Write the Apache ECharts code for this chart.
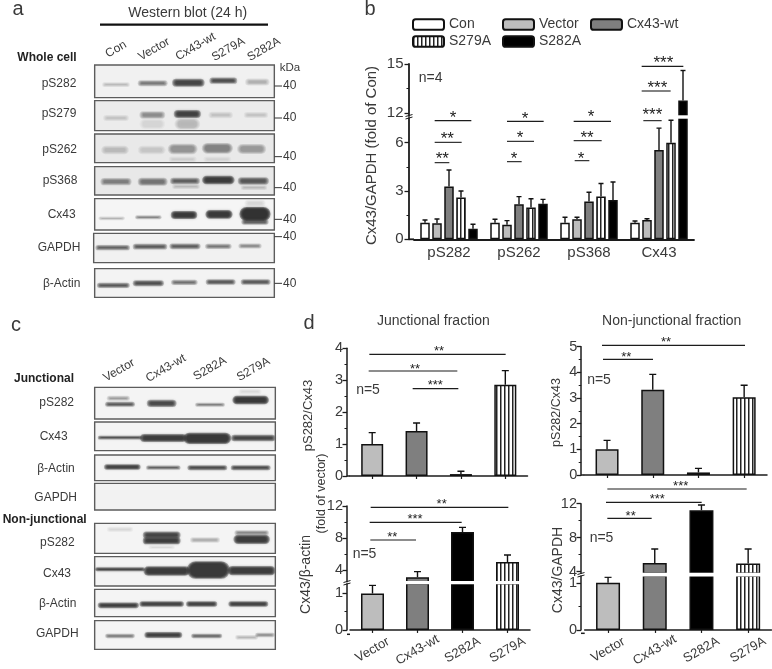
<!DOCTYPE html>
<html><head><meta charset="utf-8">
<style>html,body{margin:0;padding:0;background:#fff}#c{width:772px;height:669px}</style>
<script src="https://cdn.jsdelivr.net/npm/echarts@6/dist/echarts.min.js"></script>
</head><body><div id="c"></div>
<script>
// ---------- chart values (panel b) ----------
const targetsB = ['pS282','pS262','pS368','Cx43'];
const conB      = [1.03,1.03,1.03,1.03];
const conErrB   = [1.2,1.24,1.37,1.14];
const vectorB   = [1.0,0.91,1.24,1.2];
const vectorErrB= [1.26,1.16,1.37,1.28];
const wtB       = [3.27,2.17,2.34,5.55];
const wtErrB    = [4.3,2.65,2.92,6.9];
const s279B     = [2.6,1.97,2.65,6.0];
const s279ErrB  = [3.0,2.52,3.46,7.39];
const s282B     = [0.66,2.2,2.44,12.75];
const s282ErrB  = [0.93,2.48,3.56,14.6];
// ---------- chart values (panel d) ----------
const groupsDL = ['Vector','Cx43-wt','S282A','S279A'];
const junctionalPs     = [1.0,1.41,0.06,2.86];
const junctionalPsErr  = [1.36,1.66,0.15,3.3];
const junctionalCx     = [1.0,3.1,8.75,5.0];
const junctionalCxErr  = [1.22,3.8,9.33,5.87];
const nonJunctionalPs    = [1.0,3.32,0.1,3.03];
const nonJunctionalPsErr = [1.35,3.92,0.26,3.5];
const nonJunctionalCx    = [1.0,5.02,11.22,4.94];
const nonJunctionalCxErr = [1.12,6.67,11.85,6.67];

const FONT = '"Liberation Sans", Arial, sans-serif';
const INK = '#3a3a3a';
const LINE = '#1c1c1c';

function stripes(period, lineW){
  const cv = document.createElement('canvas');
  cv.width = period; cv.height = 4;
  const g = cv.getContext('2d');
  g.fillStyle = '#fff'; g.fillRect(0,0,period,4);
  g.fillStyle = '#222'; g.fillRect(0,0,lineW,4);
  return {image: cv, repeat: 'repeat'};
}
const STRIPE = stripes(4,1.5);
const COL = {Con:'#ffffff',Vector:'#bdbdbd','Cx43-wt':'#7f7f7f',S282A:'#000000',S279A:STRIPE};

const grid=[], xAxis=[], yAxis=[], series=[];

function addScale(o){
  const gi = grid.length;
  grid.push({left:o.left, width:o.width, top:o.top, height:o.bottom-o.top});
  xAxis.push({type:'category', gridIndex:gi, data:o.cats, show:o.showX,
    axisLine:{show:o.showX, onZero:false, lineStyle:{color:LINE,width:o.axisW}},
    axisTick:{show:!!o.xTick, alignWithLabel:true, length:3, lineStyle:{color:LINE,width:1.2}},
    axisLabel:{show:!!o.xLabels, interval:0, rotate:o.xRotate||0, margin:o.xMargin||6,
      align:'center', verticalAlign:o.xRotate?'middle':'top',
      color:INK, fontFamily:FONT, fontSize:o.xFont||14}});
  const yi = yAxis.length;
  yAxis.push({type:'value', gridIndex:gi, min:o.min, max:o.max, position:'left', offset:o.offset,
    splitLine:{show:false},
    axisLine:{show:true, onZero:false, lineStyle:{color:LINE,width:o.axisW}},
    axisTick:{show:true, length:4.5, customValues:o.major, lineStyle:{color:LINE,width:1.3}},
    axisLabel:{show:true, customValues:o.major, margin:o.yMargin||5.5, color:INK, fontFamily:FONT, fontSize:o.yFont||15}});
  yAxis.push({type:'value', gridIndex:gi, min:o.min, max:o.max, position:'left', offset:o.offset,
    splitLine:{show:false}, axisLine:{show:false},
    axisTick:{show:true, length:2.5, customValues:o.minor, lineStyle:{color:LINE,width:1}},
    axisLabel:{show:false}});
  return {xi:gi, yi};
}

function addBars(scale,o,name,vals,errs,colorFor,slot,nSlots,spacing){
  const inRange = v => v>o.min;
  series.push({type:'bar', name, xAxisIndex:scale.xi, yAxisIndex:scale.yi,
    barWidth:o.barW, barGap:o.barGap, clip:true, z:3, silent:true, animation:false,
    itemStyle:{color:colorFor(0), borderColor:'#111', borderWidth:o.barB},
    data: vals.map((v,i)=>({value: inRange(v)?v:null, itemStyle:{color:colorFor(i)}}))});
  const errData = vals.map((v,i)=>[i,v,errs[i]]).filter(d=>d[1]>o.min && d[1]<=o.max);
  series.push({type:'custom', xAxisIndex:scale.xi, yAxisIndex:scale.yi, clip:true, z:2, silent:true, animation:false,
    data: errData, encode:{x:0,y:[1,2]},
    renderItem(p,api){
      const a=api.coord([api.value(0),api.value(1)]), b=api.coord([api.value(0),api.value(2)]);
      const x=a[0]+(slot-(nSlots-1)/2)*spacing, c=o.cap/2;
      return {type:'group',children:[
        {type:'line',shape:{x1:x,y1:a[1],x2:x,y2:b[1]},style:{stroke:'#111',lineWidth:1.4}},
        {type:'line',shape:{x1:x-c,y1:b[1],x2:x+c,y2:b[1]},style:{stroke:'#111',lineWidth:1.4}}
      ]};
    }});
}

// ---------- panel b ----------
const bStyle={barW:9.5,barGap:'26.3%',barB:1.5,cap:5};
const bLow ={cats:targetsB,left:414,width:280,top:118,bottom:239.3,min:0,max:7.53,offset:5,axisW:1.8,showX:true,xLabels:true,xFont:15,xMargin:6,major:[0,3,6],minor:[1.5,4.5]};
const bHigh={cats:targetsB,left:414,width:280,top:64,bottom:116,min:11.8,max:15,offset:5,axisW:1.8,showX:false,major:[12,15],minor:[13.5]};
const bSeries=[['Con',conB,conErrB],['Vector',vectorB,vectorErrB],['Cx43-wt',wtB,wtErrB],['S279A',s279B,s279ErrB],['S282A',s282B,s282ErrB]];
[bLow,bHigh].forEach(o=>{
  const s=addScale(o);
  bSeries.forEach((d,k)=>addBars(s,{...bStyle,min:o.min,max:o.max},d[0],d[1],d[2],()=>COL[d[0]],k,5,12));
});

// ---------- panel d ----------
function panelD(name,vals,errs,scales,style){
  const colorFor=i=>COL[groupsDL[i]];
  scales.forEach(o=>{
    const s=addScale({cats:groupsDL,axisW:1.5,yFont:14.5,yMargin:4,...o});
    addBars(s,{...style,min:o.min,max:o.max},name,vals,errs,colorFor,0,1,0);
  });
}
const dL={showX:true,xTick:true};
panelD('Junctional pS282/Cx43',junctionalPs,junctionalPsErr,[
  {...dL,left:350,width:177.5,top:348.3,bottom:476,min:0,max:4,offset:3,major:[0,1,2,3,4],minor:[.5,1.5,2.5,3.5]}
],{barW:22,barB:1.5,cap:7});
panelD('Junctional Cx43/actin',junctionalCx,junctionalCxErr,[
  {...dL,xLabels:true,xRotate:30,xFont:13,xMargin:20,left:350,width:180,top:583.7,bottom:634.3,min:0,max:1.265,offset:3,major:[0,1],minor:[.5]},
  {showX:false,left:350,width:180,top:506,bottom:581.7,min:2.54,max:12,offset:3,major:[4,8,12],minor:[6,10]}
],{barW:23,barB:1.5,cap:7});
panelD('Non-junctional pS282/Cx43',nonJunctionalPs,nonJunctionalPsErr,[
  {...dL,left:584.2,width:182.8,top:346.7,bottom:475,min:0,max:5,offset:3,major:[0,1,2,3,4,5],minor:[.5,1.5,2.5,3.5,4.5]}
],{barW:23,barB:1.5,cap:7});
panelD('Non-junctional Cx43/GAPDH',nonJunctionalCx,nonJunctionalCxErr,[
  {...dL,xLabels:true,xRotate:30,xFont:13,xMargin:20,left:584.7,width:186.8,top:576,bottom:633.3,min:0,max:1.146,offset:3.7,major:[0,1],minor:[.5]},
  {showX:false,left:584.7,width:186.8,top:503.7,bottom:573.3,min:3.8,max:12,offset:3.7,major:[4,8,12],minor:[6,10]}
],{barW:24,barB:1.5,cap:7});

// ---------- legend of panel b ----------
const legendSpots=[['Con',412,17.5],['Vector',502,17.5],['Cx43-wt',590,17.5],['S279A',412,34.5],['S282A',502,34.5]];
const legend=legendSpots.map(l=>({data:[l[0]],left:l[1],top:l[2],itemWidth:31,itemHeight:10.5,itemGap:0,padding:0,
  selectedMode:false,itemStyle:{borderColor:'#111',borderWidth:2},textStyle:{color:INK,fontFamily:FONT,fontSize:14}}));

// ---------- annotations (pixel layout, 3x crop units) ----------
const g=[];
function txt(t,x,y,size,o={}){ g.push({type:'text',x,y,rotation:(o.rot||0)*Math.PI/180,z:20,silent:true,
  style:{text:t,fill:o.fill||INK,font:(o.bold?'bold ':'')+size+'px '+FONT,align:o.align||'center',verticalAlign:'middle'}}); }
function seg(x1,y1,x2,y2,w,c){ g.push({type:'line',z:20,silent:true,shape:{x1,y1,x2,y2},style:{stroke:c||LINE,lineWidth:w||1.2}}); }
function bracket(ox,oy,arr,size){ arr.forEach(a=>{
  seg(ox+a[1]/3,oy+a[0]/3,ox+a[2]/3,oy+a[0]/3,1.1);
  txt(a[5],ox+a[3]/3,oy+a[4]/3+size*0.22,size,{fill:'#222'});
});}

// panel letters
txt('a',18,9,20); txt('b',370,9,20); txt('c',16,325,20); txt('d',309,323,20);

// panel b extras
txt('Cx43/GAPDH (fold of Con)',371.7,155.5,15,{rot:90});
txt('n=4',418.7,77.7,14,{align:'left'});
// white band that opens the axis break across the only bar that crosses it
seg(676,117,692,117,3.4,'#fff');
bracket(360,0,[
 [362,224,334,279,343,'*'],[427,224,305,262,408,'**'],[488,224,268,247,467,'**'],
 [364,441,551,495,347,'*'],[424,441,522,480,405,'*'],[485,441,485,462,466,'*'],
 [364,641,753,693,342,'*'],[422,641,725,681,405,'**'],[482,644,688,663,467,'*'],
 [199,845,970,910,178,'***'],[273,845,932,892,255,'***'],[362,850,905,877,336,'***']],17);
seg(409,239.3,414,239.3,1.8);
seg(405.5,116.5,412.5,114.5,1); seg(405.5,119,412.5,117,1);

// panel d extras
txt('Junctional fraction',433.3,321.5,14);
txt('Non-junctional fraction',671.7,321,14);
txt('pS282/Cx43',308,415.5,13,{rot:90});
txt('(fold of vector)',321.5,493.5,12.5,{rot:90});
txt('Cx43/\u03b2-actin',306,574.5,14,{rot:90});
txt('pS282/Cx43',557,412.5,12.5,{rot:90});
txt('Cx43/GAPDH',558,570,14,{rot:90});
txt('n=5',368,390.5,14); txt('n=5',364.5,554,14);
txt('n=5',599,380,14); txt('n=5',601.5,538.5,14);
bracket(330,305,[[148,118,527,327,132,'**'],[198,116,382,255,184,'**'],[251,248,385,316,234,'***'],
 [607,122,535,335,590,'**'],[652,119,395,255,636,'***'],[705,121,258,187,690,'**']],13);
bracket(550,305,[[121,156,585,348,105,'**'],[163,159,309,229,150,'**'],
 [552,172,590,392,536,'***'],[592,168,455,322,576,'***'],[640,172,305,242,625,'**']],13);
seg(347,476,350,476,1.5); seg(347,634.3,350,634.3,1.5);
seg(581,475,584.2,475,1.5); seg(581,633.3,584.7,633.3,1.5);
seg(343.5,582.5,350.5,580.5,1); seg(343.5,585,350.5,583,1);
seg(577.5,574.5,584.5,572.5,1); seg(577.5,577,584.5,575,1);
seg(351,582.7,530,582.7,3.2,'#fff');
seg(586,574.6,771.5,574.6,3.6,'#fff');

// western blots
const blotsA=[
 {f:[284,195,823,293],bg:'#f1f1f1',b:[[348,254,70,5,.28],[458,250,76,9,.55],[565,248,84,15,.8],[670,242,70,10,.75],[772,246,60,12,.3]]},
 {f:[284,302,823,392],bg:'#ececec',b:[[348,354,64,9,.22],[457,345,64,13,.45],[562,342,68,15,.82],[562,372,64,26,.25],[457,372,64,22,.1],[662,345,60,11,.2],[768,345,60,9,.2]]},
 {f:[284,402,823,488],bg:'#e9e9e9',b:[[345,450,70,17,.24],[455,450,70,17,.18],[548,447,76,23,.42],[652,445,80,23,.48],[755,447,74,21,.38],[548,478,70,8,.15],[652,478,70,8,.1]]},
 {f:[284,500,823,585],bg:'#e8e8e8',b:[[348,545,80,13,.5],[458,545,76,15,.55],[555,543,76,11,.65],[558,560,70,5,.25],[655,540,84,17,.85],[760,543,80,13,.7],[762,563,66,5,.25]]},
 {f:[284,596,823,690],bg:'#f5f5f5',b:[[335,655,66,2,.35],[445,652,66,3,.55],[552,645,66,15,.88],[657,643,68,17,.88],[765,642,80,33,.92],[765,666,68,7,.7],[765,610,50,12,.15]]},
 {f:[281,700,823,788],bg:'#f1f1f1',b:[[338,743,90,7,.68],[450,740,90,8,.7],[555,739,80,8,.68],[655,739,66,7,.58],[750,738,56,6,.52]]},
 {f:[284,806,823,892],bg:'#f3f3f3',b:[[340,856,85,7,.72],[445,850,80,9,.76],[553,847,66,7,.62],[662,846,76,8,.72],[767,846,76,8,.72]]}
];
const blotsC=[
 {f:[284,232,826,327],bg:'#f4f4f4',b:[[360,283,76,6,.72],[355,265,56,6,.4],[485,280,76,13,.78],[630,284,76,3,.58],[752,270,96,17,.88],[750,245,56,7,.12]]},
 {f:[284,336,826,422],bg:'#f4f4f4',b:[[360,383,120,2,.8],[490,384,126,15,.85],[622,385,130,25,.88],[760,384,120,11,.8]]},
 {f:[284,435,826,512],bg:'#f4f4f4',b:[[367,471,96,7,.85],[490,473,90,4,.7],[622,473,106,6,.8],[752,473,106,6,.8]]},
 {f:[284,520,826,600],bg:'#f2f2f2',b:[]},
 {f:[284,640,826,730],bg:'#f4f4f4',b:[[360,658,66,7,.15],[485,675,100,12,.8],[485,692,100,13,.85],[485,712,66,3,.12],[615,690,76,7,.35],[755,668,90,6,.5],[755,688,96,19,.85]]},
 {f:[284,740,826,828],bg:'#f4f4f4',b:[[360,778,136,3,.85],[500,783,126,19,.85],[625,780,116,43,.88],[755,782,130,19,.85]]},
 {f:[284,838,826,920],bg:'#f4f4f4',b:[[355,886,110,8,.85],[485,882,120,7,.85],[605,882,80,7,.85],[745,882,106,7,.85]]},
 {f:[284,932,826,1018],bg:'#f4f4f4',b:[[360,978,76,4,.6],[490,975,100,9,.85],[620,978,80,4,.7],[740,982,56,5,.3],[795,975,46,4,.5]]}
];
function drawBlots(list,oy){
  list.forEach(r=>{
    const [x1,y1,x2,y2]=r.f;
    g.push({type:'rect',z:5,silent:true,shape:{x:x1/3,y:oy+y1/3,width:(x2-x1)/3,height:(y2-y1)/3},style:{fill:r.bg,stroke:'none'}});
    r.b.forEach(b=>{
      // soft band: stacked translucent rounded rects, so the edge fades out
      const layers=4, q=1-Math.pow(1-b[4],1/layers);
      for(let k=0;k<layers;k++){
        const w=b[2]/3+(k-1)*2.2, h=Math.max(.6,b[3]/3+(k-1)*1.5);
        const col='rgba(45,45,45,'+q.toFixed(3)+')';
        g.push({type:'rect',z:6,silent:true,shape:{x:b[0]/3-w/2,y:oy+b[1]/3-h/2,width:w,height:h,r:h/2},
          style:{fill:col,shadowBlur:2.5,shadowColor:col}});
      }
    });
    g.push({type:'rect',z:7,silent:true,shape:{x:x1/3,y:oy+y1/3,width:(x2-x1)/3,height:(y2-y1)/3},style:{fill:'none',stroke:'#5c5c5c',lineWidth:1.4}});
  });
}
drawBlots(blotsA,0); drawBlots(blotsC,310);

txt('Western blot (24 h)',187.7,12.7,14);
seg(100,24.7,268,24.7,2.2,'#111');
txt('Whole cell',47,57.3,12,{bold:true,fill:'#222'});
[['pS282',177,251],['pS279',177,340],['pS262',179,448],['pS368',180,543],['Cx43',185,643],['GAPDH',177,744],['\u03b2-Actin',185,851]]
  .forEach(l=>txt(l[0],l[1]/3,l[2]/3,12));
[['Con',348,148],['Vector',462,148],['Cx43-wt',587,140],['S279A',685,148],['S282A',792,148]]
  .forEach(l=>txt(l[0],l[1]/3,l[2]/3,12,{rot:30}));
txt('kDa',290,67.7,11.5);
[258,354,470,563,658,710,850].forEach(y=>{ seg(274.5,y/3,282,y/3,1,'#333'); txt('40',283,y/3,12,{align:'left'}); });

txt('Junctional',44,310+205/3,12,{bold:true,fill:'#222'});
txt('Non-junctional',44.7,310+628/3,12,{bold:true,fill:'#222'});
[['pS282',170,278],['Cx43',161,380],['\u03b2-Actin',168,476],['GAPDH',167,562],['pS282',172,698],['Cx43',171,790],['\u03b2-Actin',173,881],['GAPDH',172,970]]
  .forEach(l=>txt(l[0],l[1]/3,310+l[2]/3,12));
[['Vector',357,181],['Cx43-wt',498,175],['S282A',630,176],['S279A',760,178]]
  .forEach(l=>txt(l[0],l[1]/3,310+l[2]/3,12,{rot:30}));

const chart=echarts.init(document.getElementById('c'),null,{renderer:'canvas'});
chart.setOption({animation:false,backgroundColor:'#fff',textStyle:{fontFamily:FONT},
  legend,grid,xAxis,yAxis,series,graphic:g});
</script></body></html>
